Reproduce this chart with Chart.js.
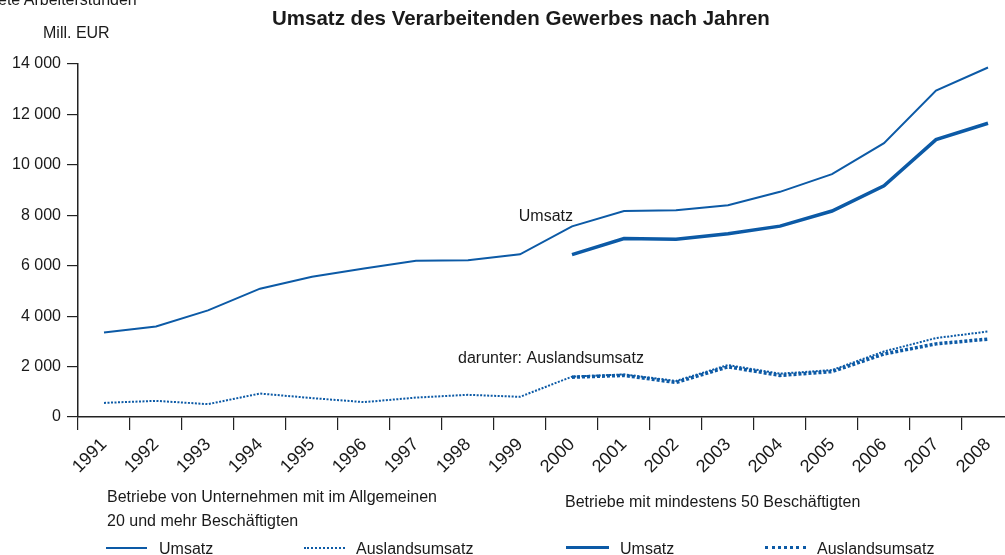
<!DOCTYPE html>
<html>
<head>
<meta charset="utf-8">
<script src="https://cdn.jsdelivr.net/npm/chart.js@4"></script>
<style>
  body { margin: 0; width: 1005px; height: 555px; overflow: hidden; position: relative; background: #fff;
         font-family: "Liberation Sans", Arial, sans-serif; color: #1a1a1a; }
  #wrap { position: absolute; left: 0; top: 0; width: 1020px; height: 555px; }
  .t { position: absolute; white-space: nowrap; font-size: 16px; line-height: 18px; }
  .title { font-weight: bold; font-size: 20.5px; }
  .sample { position: absolute; width: 41px; height: 0; border-top-color: #0c5aa6; }
</style>
</head>
<body>
<div id="wrap"><canvas id="umsatzChart" width="1020" height="555"></canvas></div>

<div class="t" style="left:-2px; top:-9px;">ete Arbeiterstunden</div>
<div class="t title" style="left:272px; top:9px;">Umsatz des Verarbeitenden Gewerbes nach Jahren</div>
<div class="t" style="left:43px; top:24px;">Mill. EUR</div>

<div class="t" style="left:107px; top:488px;">Betriebe von Unternehmen mit im Allgemeinen</div>
<div class="t" style="left:107px; top:512px;">20 und mehr Beschäftigten</div>
<div class="t" style="left:565px; top:493px;">Betriebe mit mindestens 50 Beschäftigten</div>

<div class="sample" style="left:106px; top:547px; border-top:2px solid #0c5aa6;"></div>
<div class="t" style="left:159px; top:540px;">Umsatz</div>
<div class="sample" style="left:304px; top:547px; border-top:2px dotted #0c5aa6;"></div>
<div class="t" style="left:356px; top:540px;">Auslandsumsatz</div>
<div class="sample" style="left:566px; top:546px; width:43px; border-top:3px solid #0c5aa6;"></div>
<div class="t" style="left:620px; top:540px;">Umsatz</div>
<div class="sample" style="left:765px; top:546px; border-top:3px dotted #0c5aa6;"></div>
<div class="t" style="left:817px; top:540px;">Auslandsumsatz</div>

<script>
const years = ['1991', '1992', '1993', '1994', '1995', '1996', '1997', '1998', '1999',
               '2000', '2001', '2002', '2003', '2004', '2005', '2006', '2007', '2008'];

// Betriebe von Unternehmen mit im Allgemeinen 20 und mehr Beschäftigten
const umsatz20 = [3350, 3590, 4230, 5090, 5560, 5890, 6200, 6220, 6450,
                  7560, 8170, 8200, 8400, 8930, 9630, 10860, 12950, 13860];
const ausland20 = [560, 640, 510, 930, 750, 590, 770, 880, 800,
                   1600, 1690, 1430, 2060, 1720, 1860, 2600, 3130, 3390];

// Betriebe mit mindestens 50 Beschäftigten (ab 2000)
const umsatz50 = [null, null, null, null, null, null, null, null, null,
                  6440, 7080, 7050, 7270, 7570, 8170, 9170, 11000, 11650];
const ausland50 = [null, null, null, null, null, null, null, null, null,
                   1580, 1650, 1370, 1990, 1650, 1800, 2500, 2900, 3090];

const yTicks = [0, 2000, 4000, 6000, 8000, 10000, 12000, 14000];

const blue = '#0c5aa6';
const ink = '#1a1a1a';

Chart.defaults.font.family = '"Liberation Sans", Arial, sans-serif';
Chart.defaults.font.size = 16;
Chart.defaults.color = ink;

// text labels inside the plot
const lineLabels = {
    id: 'lineLabels',
    afterDatasetsDraw(chart) {
        const { ctx, scales: { x, y } } = chart;
        ctx.save();
        ctx.fillStyle = ink;
        ctx.font = '16px "Liberation Sans", Arial, sans-serif';
        ctx.textBaseline = 'alphabetic';
        ctx.textAlign = 'right';
        ctx.fillText('Umsatz', x.getPixelForValue(9) + 1, y.getPixelForValue(7770));
        ctx.textAlign = 'left';
        ctx.fillText('darunter: Auslandsumsatz', x.getPixelForValue(7) - 10, y.getPixelForValue(2150));
        ctx.restore();
    }
};

new Chart(document.getElementById('umsatzChart'), {
    type: 'line',
    data: {
        labels: years,
        datasets: [
            { label: 'Umsatz (20+)', data: umsatz20, borderColor: blue, borderWidth: 2 },
            { label: 'Auslandsumsatz (20+)', data: ausland20, borderColor: blue, borderWidth: 2, borderDash: [2, 1.5] },
            { label: 'Umsatz (50+)', data: umsatz50, borderColor: blue, borderWidth: 3.5 },
            { label: 'Auslandsumsatz (50+)', data: ausland50, borderColor: blue, borderWidth: 3.5, borderDash: [3, 2] }
        ]
    },
    options: {
        responsive: false,
        animation: false,
        devicePixelRatio: 1,
        layout: { padding: { left: 0, top: 64, right: 6, bottom: 0 } },
        elements: { point: { radius: 0 }, line: { tension: 0, borderCapStyle: 'butt' } },
        plugins: { legend: { display: false }, tooltip: { enabled: false } },
        scales: {
            x: {
                offset: true,
                grid: { offset: true, drawOnChartArea: false, tickLength: 13, color: '#222', lineWidth: 1.2 },
                border: { color: '#222', width: 1.5 },
                ticks: { minRotation: 45, maxRotation: 45, autoSkip: false, padding: 4, color: ink,
                         font: { size: 18 } },
                afterFit(scale) { scale.height = 138; }
            },
            y: {
                min: 0,
                max: 14000,
                afterBuildTicks(scale) { scale.ticks = yTicks.map(v => ({ value: v })); },
                grid: { drawOnChartArea: false, tickLength: 11, color: '#222', lineWidth: 1.2 },
                border: { color: '#222', width: 1.5 },
                ticks: {
                    padding: 6,
                    color: ink,
                    callback: v => v === 0 ? '0' : String(v).replace(/(\d)(?=(\d{3})+$)/g, '$1 ')
                },
                afterFit(scale) { scale.width = 78; }
            }
        }
    },
    plugins: [lineLabels]
});
</script>
</body>
</html>
